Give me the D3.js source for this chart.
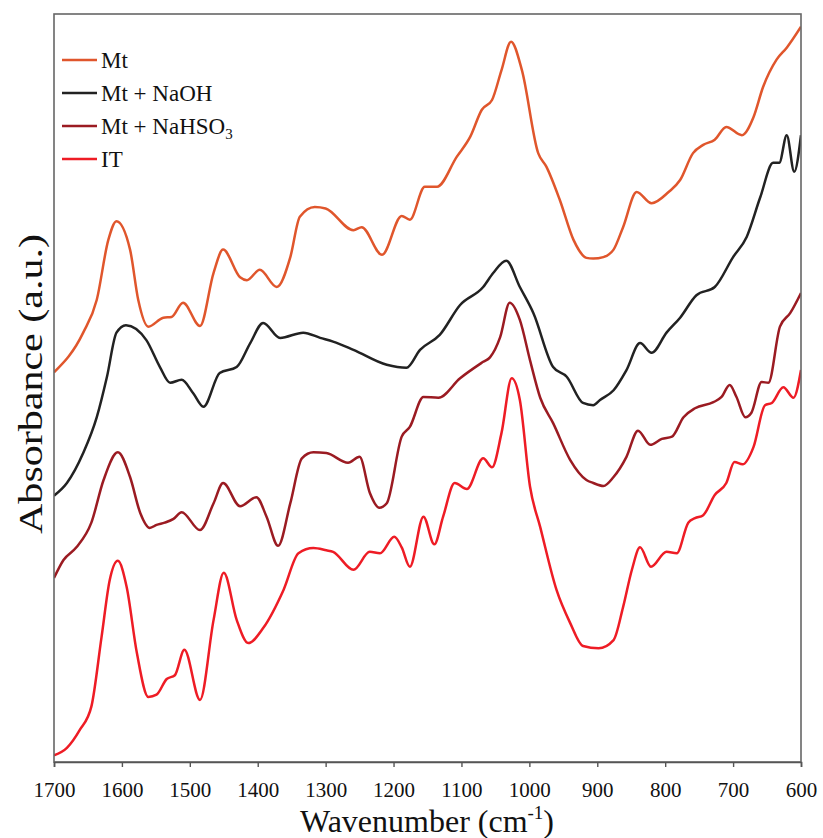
<!DOCTYPE html>
<html><head><meta charset="utf-8">
<script src="https://cdn.jsdelivr.net/npm/d3@7"></script>
<style>
html,body{margin:0;padding:0;background:#fff;}
svg{display:block;font-family:"Liberation Serif","Times New Roman",serif;}
</style></head>
<body>
<svg id="chart" width="823" height="838"></svg>
<script>
// ---- data (absorbance in arbitrary units, curves offset as in the figure) ----
const seriesNames = ["Mt", "Mt + NaOH", "Mt + NaHSO3", "IT"];
const xTicks = [1700,1600,1500,1400,1300,1200,1100,1000,900,800,700,600];

const mtWn  = [1700,1657,1637,1620,1608,1588,1576,1561,1539,1527,1510,1485,1465,1451,1426,1416,1397,1372,1352,1338,1316,1300,1259,1247,1217,1188,1176,1154,1136,1107,1087,1070,1055,1041,1027,1011,987,975,955,935,916,906,891,876,862,842,820,795,778,759,744,727,710,687,670,656,636,621,600];
const mtAbs = [52.1,57.4,61.8,69.8,72.3,68.5,61.8,58.2,59.4,59.5,61.4,58.3,65.4,68.5,64.8,64.4,65.8,63.5,67.5,72.9,74.2,74.0,71.1,71.5,67.8,73.0,72.5,76.9,76.9,80.9,83.6,87.2,88.5,92.5,96.3,92.5,81.4,79.6,75.1,69.8,67.4,67.3,67.5,68.5,71.5,76.2,74.7,76.2,77.8,81.4,82.5,83.2,84.9,83.8,86.2,90.2,93.9,95.5,98.3];

const naohWn  = [1700,1681,1657,1637,1622,1608,1594,1564,1544,1529,1512,1495,1480,1456,1431,1411,1392,1367,1333,1308,1289,1259,1210,1181,1161,1132,1102,1068,1053,1034,1014,994,965,945,921,906,896,876,857,837,820,798,778,754,727,700,680,660,641,632,621,610,600];
const naohAbs = [35.6,37.3,41.3,46.1,51.5,57.4,58.4,56.4,52.8,50.7,51.1,49.3,47.5,52.0,52.8,56.0,58.7,56.7,57.4,56.7,56.2,55.1,53.1,52.7,55.1,57.1,61.1,63.5,65.4,67.0,63.5,60.0,52.8,51.5,48.0,47.7,48.4,49.7,52.4,56.0,54.7,57.4,59.4,62.4,63.5,67.5,70.2,75.5,80.1,80.1,83.8,78.9,83.8];

const nahso3Wn  = [1700,1686,1667,1645,1627,1606,1588,1573,1559,1549,1537,1524,1512,1485,1465,1451,1426,1402,1387,1370,1352,1335,1318,1299,1267,1250,1235,1221,1210,1188,1176,1156,1134,1102,1068,1058,1043,1029,1014,999,984,965,940,916,906,891,876,857,840,822,805,790,773,756,729,717,705,695,682,673,658,648,631,616,600];
const nahso3Abs = [24.6,27.0,28.7,32.0,37.7,41.4,38.1,33.3,31.3,31.7,32.0,32.5,33.4,31.0,34.6,37.3,34.2,35.4,32.8,28.9,34.6,40.6,41.4,41.3,40.0,40.8,36.0,34.0,34.6,43.5,44.8,48.8,48.7,51.3,53.5,54.1,56.8,61.4,59.1,53.7,48.7,45.3,40.4,37.7,37.3,36.9,38.1,40.8,44.3,42.4,43.2,43.5,46.1,47.3,48.1,48.8,50.4,48.8,46.1,46.7,50.8,50.7,58.2,60.0,62.7];

const itWn  = [1700,1681,1662,1645,1630,1618,1606,1593,1578,1561,1549,1534,1522,1508,1485,1465,1450,1431,1414,1392,1362,1340,1318,1299,1289,1259,1235,1220,1199,1188,1176,1156,1140,1127,1110,1092,1068,1055,1041,1026,1014,999,984,960,940,921,898,876,862,849,837,821,798,783,766,756,744,727,710,698,686,670,653,643,626,611,600];
const itAbs = [0.9,1.9,4.3,7.4,16.7,24.3,26.9,23.4,14.6,8.7,9.0,11.1,11.6,15.0,8.3,19.0,25.3,19.0,15.9,17.9,23.0,27.9,28.6,28.3,28.1,25.7,28.1,27.9,30.1,28.7,26.1,32.8,29.1,32.8,37.3,36.5,40.6,39.4,44.0,51.3,48.4,36.8,31.4,23.0,18.6,15.5,15.2,16.3,20.7,25.7,28.7,26.1,28.1,27.9,32.0,32.6,33.0,35.7,37.3,40.1,39.8,42.1,47.7,48.0,50.1,48.7,52.4];

const colors = ["#e0562c", "#222222", "#9b1b22", "#ee1c25"];

// ---- layout ----
const svg = d3.select("#chart");
const L = 54, R = 801, T = 14, B = 762;
const x = d3.scaleLinear().domain([1700, 600]).range([L, R]);
const y = d3.scaleLinear().domain([0, 100]).range([B, T]);

const series = [
  {name: seriesNames[0], wn: mtWn, ab: mtAbs, color: colors[0]},
  {name: seriesNames[1], wn: naohWn, ab: naohAbs, color: colors[1]},
  {name: seriesNames[2], wn: nahso3Wn, ab: nahso3Abs, color: colors[2]},
  {name: seriesNames[3], wn: itWn, ab: itAbs, color: colors[3]}
];

svg.append("defs").append("clipPath").attr("id","clip")
  .append("rect").attr("x", L).attr("y", T).attr("width", R - L).attr("height", B - T);

const line = d3.line().x(d => x(d[0])).y(d => y(d[1])).curve(d3.curveMonotoneX);

const g = svg.append("g").attr("clip-path","url(#clip)");
series.forEach(s => {
  g.append("path")
    .datum(s.wn.map((w, i) => [w, s.ab[i]]))
    .attr("fill","none").attr("stroke", s.color).attr("stroke-width", 2.5)
    .attr("stroke-linejoin","round").attr("d", line);
});

// frame
svg.append("rect").attr("x", L).attr("y", T).attr("width", R - L).attr("height", B - T)
  .attr("fill","none").attr("stroke","#666").attr("stroke-width",1.6);

// x axis
const xAxis = svg.append("g").attr("transform", `translate(0,${B})`)
  .call(d3.axisBottom(x).tickValues(xTicks).tickSize(5).tickPadding(15).tickFormat(d3.format("d")));
xAxis.select(".domain").attr("stroke","#555").attr("stroke-width",1.6);
xAxis.selectAll(".tick line").attr("stroke","#555").attr("stroke-width",1.4);
xAxis.selectAll(".tick text").attr("font-family","Liberation Serif, serif").attr("font-size",21).attr("fill","#111");

// axis titles
const xt = svg.append("text").attr("x", 427).attr("y", 832).attr("text-anchor","middle")
  .attr("font-size",32).attr("fill","#111");
xt.append("tspan").text("Wavenumber (cm");
xt.append("tspan").attr("font-size",19).attr("dy",-13).text("-1");
xt.append("tspan").attr("dy",13).text(")");

svg.append("text").attr("transform","translate(42,384) rotate(-90)")
  .attr("text-anchor","middle").attr("font-size",33).attr("fill","#111")
  .attr("textLength", 300).attr("lengthAdjust","spacingAndGlyphs")
  .text("Absorbance (a.u.)");

// legend
const legY = [60, 93, 126, 159];
series.forEach((s, i) => {
  svg.append("line").attr("x1",62).attr("x2",97).attr("y1",legY[i]).attr("y2",legY[i])
    .attr("stroke", s.color).attr("stroke-width",2.4);
  const t = svg.append("text").attr("x",101).attr("y",legY[i] + 8).attr("font-size",23).attr("fill","#111");
  if (s.name === "Mt + NaHSO3") {
    t.append("tspan").text("Mt + NaHSO");
    t.append("tspan").attr("font-size",15).attr("dy",5).text("3");
  } else {
    t.text(s.name);
  }
});
</script>
</body></html>
